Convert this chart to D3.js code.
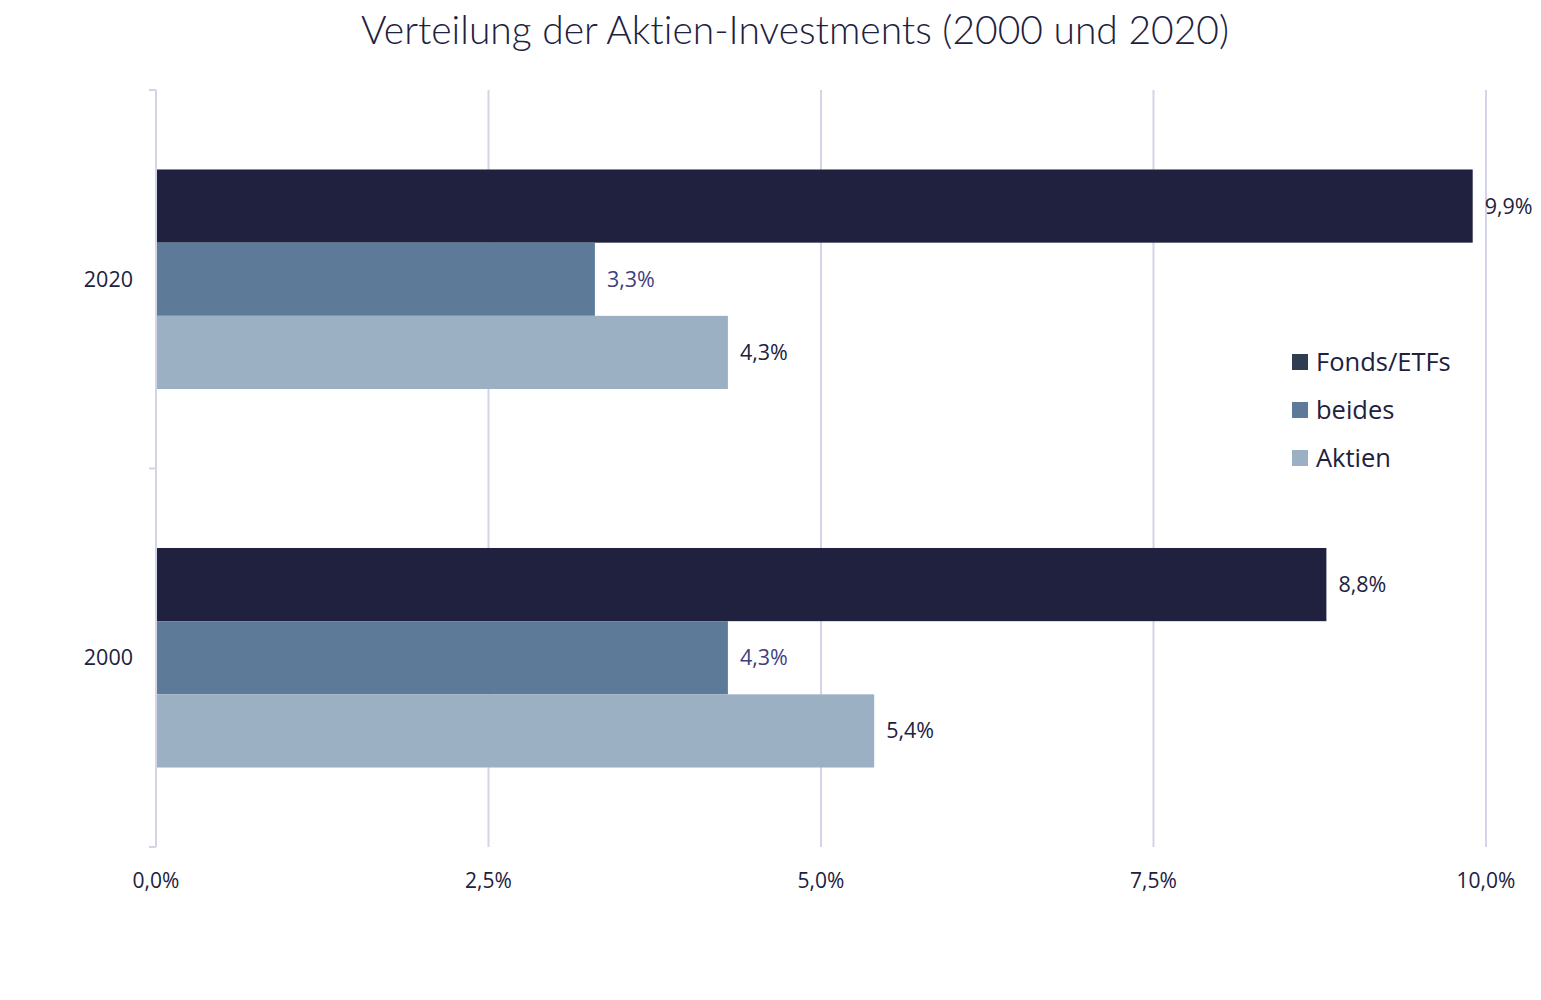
<!DOCTYPE html>
<html>
<head>
<meta charset="utf-8">
<script src="https://cdn.jsdelivr.net/npm/d3@7"></script>
<style>
  body { margin: 0; background: #fff; }
  svg text { font-family: "Open Sans", "Noto Sans", sans-serif; }
</style>
</head>
<body>
<div id="chart"></div>
<script>
const years = ["2020", "2000"];
const series = ["Fonds/ETFs", "beides", "Aktien"];
const fonds = [9.9, 8.8];
const beides = [3.3, 4.3];
const aktien = [4.3, 5.4];
const xTicks = [0, 2.5, 5, 7.5, 10];

const barColors = {"Fonds/ETFs": "#20213f", "beides": "#5d7b99", "Aktien": "#9cb0c4"};
const legendColors = {"Fonds/ETFs": "#2e3d4f", "beides": "#5d7b99", "Aktien": "#9cb0c4"};
const labelColors = {"Fonds/ETFs": "#20213f", "beides": "#3f4080", "Aktien": "#20213f"};

const width = 1541, height = 1000;
const margin = {top: 90, right: 55, bottom: 153, left: 156};

const rows = years.map((y, i) => ({
    year: y,
    values: [
        {key: "Fonds/ETFs", value: fonds[i]},
        {key: "beides", value: beides[i]},
        {key: "Aktien", value: aktien[i]}
    ]
}));

const svg = d3.select("#chart").append("svg")
    .attr("width", width).attr("height", height);

const x = d3.scaleLinear().domain([0, 10]).range([margin.left, 1486]);
const y0 = d3.scaleBand().domain(years)
    .range([margin.top, height - margin.bottom])
    .paddingInner(0.42).paddingOuter(0.21);
const y1 = d3.scaleBand().domain(series).range([0, y0.bandwidth()]);

// title
svg.append("text")
    .attr("x", 795).attr("y", 44)
    .attr("text-anchor", "middle")
    .attr("fill", "#20213f")
    .style("font-family", "Lato, 'Open Sans', sans-serif")
    .style("font-weight", 300)
    .style("font-size", "39px")
    .style("font-variant-ligatures", "none")
    .text("Verteilung der Aktien-Investments (2000 und 2020)");

// gridlines
svg.append("g").selectAll("line")
    .data(xTicks.slice(1))
    .join("line")
    .attr("x1", d => x(d)).attr("x2", d => x(d))
    .attr("y1", margin.top).attr("y2", height - margin.bottom)
    .attr("stroke", "#d4d4e8").attr("stroke-width", 2);

// x tick labels
svg.append("g").selectAll("text")
    .data(xTicks)
    .join("text")
    .attr("x", d => x(d)).attr("y", 888)
    .attr("text-anchor", "middle")
    .attr("fill", "#20213f")
    .style("font-size", "21px")
    .text(d => d3.format(".1f")(d).replace(".", ",") + "%");

// bars
const groups = svg.append("g").selectAll("g")
    .data(rows)
    .join("g")
    .attr("transform", d => `translate(0,${y0(d.year)})`);

groups.selectAll("rect")
    .data(d => d.values)
    .join("rect")
    .attr("x", x(0))
    .attr("y", d => y1(d.key))
    .attr("width", d => x(d.value) - x(0))
    .attr("height", y1.bandwidth())
    .attr("fill", d => barColors[d.key]);

groups.selectAll("text")
    .data(d => d.values)
    .join("text")
    .attr("x", d => x(d.value) + 12)
    .attr("y", d => y1(d.key) + y1.bandwidth() / 2)
    .attr("dy", "0.35em")
    .attr("fill", d => labelColors[d.key])
    .style("font-size", "21.5px")
    .text(d => d3.format(".1f")(d.value).replace(".", ",") + "%");

// category axis
const cat = svg.append("g");
const catTicks = [margin.top, margin.top + (height - margin.bottom - margin.top) / 2, height - margin.bottom];
cat.append("line")
    .attr("x1", x(0)).attr("x2", x(0))
    .attr("y1", margin.top).attr("y2", height - margin.bottom)
    .attr("stroke", "#d4d4e8").attr("stroke-width", 2);
cat.selectAll("line.tick")
    .data(catTicks)
    .join("line")
    .attr("class", "tick")
    .attr("x1", x(0) - 7).attr("x2", x(0))
    .attr("y1", d => d).attr("y2", d => d)
    .attr("stroke", "#d4d4e8").attr("stroke-width", 2);
cat.selectAll("text")
    .data(years)
    .join("text")
    .attr("x", 133)
    .attr("y", d => y0(d) + y0.bandwidth() / 2)
    .attr("dy", "0.35em")
    .attr("text-anchor", "end")
    .attr("fill", "#20213f")
    .style("font-size", "21.5px")
    .text(d => d);

// legend
const legend = svg.append("g").attr("transform", "translate(1292,362)");
const item = legend.selectAll("g")
    .data(series)
    .join("g")
    .attr("transform", (d, i) => `translate(0,${i * 48})`);
item.append("rect")
    .attr("x", 0).attr("y", -8)
    .attr("width", 16).attr("height", 16)
    .attr("fill", d => legendColors[d]);
item.append("text")
    .attr("x", 24).attr("dy", "0.35em")
    .attr("fill", "#20213f")
    .style("font-size", "25.5px")
    .text(d => d);
</script>
</body>
</html>
